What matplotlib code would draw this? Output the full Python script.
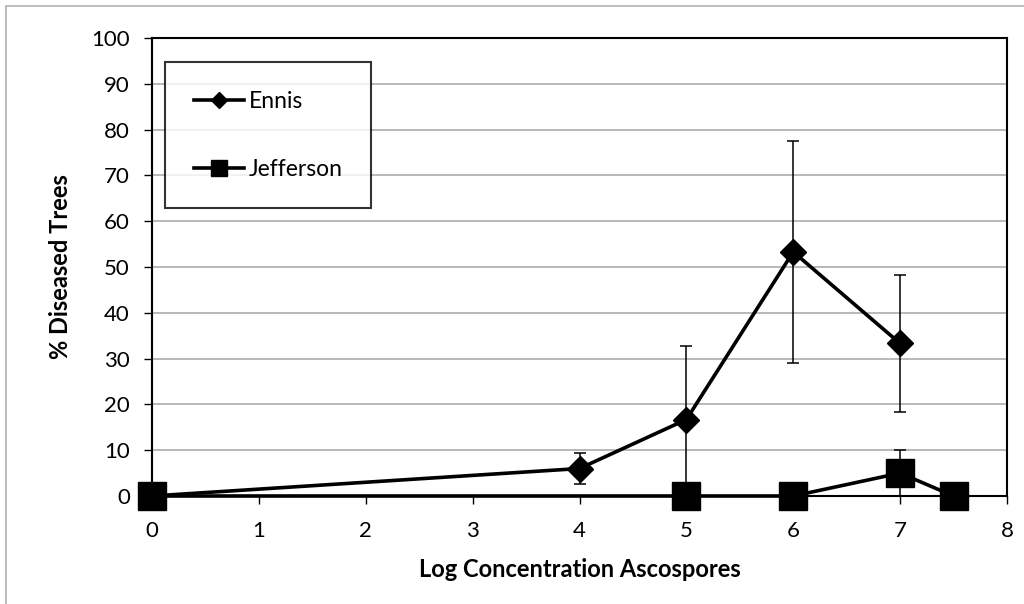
import matplotlib
matplotlib.use("Agg")
import matplotlib.pyplot as plt
from matplotlib.patches import Rectangle

# Data
ennis_x = [0, 4, 5, 6, 7]
ennis_y = [0, 6.0, 16.7, 53.3, 33.3]
ennis_err = [0, 3.3, 16.0, 24.2, 14.9]

jeff_x = [0, 5, 6, 7, 7.5]
jeff_y = [0, 0, 0, 5.0, 0]
jeff_err = [0, 0, 0, 5.0, 0]

x_ticks = [0, 1, 2, 3, 4, 5, 6, 7, 8]
y_ticks = [0, 10, 20, 30, 40, 50, 60, 70, 80, 90, 100]

plt.rcParams['font.family'] = ['Lato', 'DejaVu Sans']

fig = plt.figure(figsize=(10.24, 6.04), dpi=100)
fig.patches.append(Rectangle((6/1024, -0.1), 1.2, (604-6)/604 + 0.1, transform=fig.transFigure,
                             fill=False, edgecolor='#b0b0b0', linewidth=1.2))
ax = fig.add_axes([152/1024, 1-496/604, (1007-152)/1024, (496-38)/604])

ax.errorbar(ennis_x, ennis_y, yerr=ennis_err, fmt='none', ecolor='black',
            elinewidth=1.1, capsize=4, capthick=1.1, zorder=3)
ax.errorbar(jeff_x, jeff_y, yerr=jeff_err, fmt='none', ecolor='black',
            elinewidth=1.1, capsize=4, capthick=1.1, zorder=3)

ax.plot(ennis_x, ennis_y, color='black', lw=2.6, marker='D', ms=13,
        mfc='black', mec='black', clip_on=False, zorder=4, label='Ennis')
ax.plot(jeff_x, jeff_y, color='black', lw=2.6, marker='s', ms=19.5,
        mfc='black', mec='black', clip_on=False, zorder=5, label='Jefferson')

ax.set_xlim(0, 8)
ax.set_ylim(0, 100)
ax.set_xticks(x_ticks)
ax.set_yticks(y_ticks)
ax.tick_params(axis='both', direction='out', length=6, width=1, labelsize=16,
               color='black')
ax.tick_params(axis='x', pad=12)
ax.tick_params(axis='y', pad=10)
ax.yaxis.grid(True, color='#a6a6a6', lw=1.1)
ax.set_axisbelow(True)
for s in ax.spines.values():
    s.set_linewidth(1.5)
    s.set_color('black')

ax.set_xlabel('Log Concentration Ascospores', fontsize=17, fontweight='bold', labelpad=12)
ax.set_ylabel('% Diseased Trees', fontsize=17, fontweight='bold', labelpad=14)

leg = ax.legend(loc='upper left', bbox_to_anchor=((165-152)/855, (496-62)/458),
                fontsize=16.5, frameon=True, fancybox=False, markerscale=0.6,
                handlelength=2.2, labelspacing=2.05, borderpad=1.25, handletextpad=0.2,
                borderaxespad=0)
leg.get_frame().set_edgecolor('black')
leg.get_frame().set_linewidth(1.5)

fig.savefig('out.png', dpi=100)
